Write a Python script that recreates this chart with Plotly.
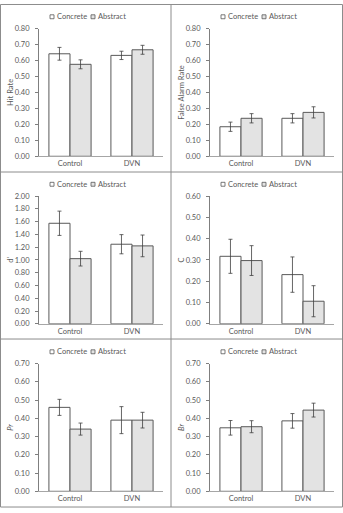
import plotly.graph_objects as go

W, H = 343, 513

groups = ["Control", "DVN"]
series = ["Concrete", "Abstract"]

hit_conc = [0.642, 0.632]
hit_conc_err = [0.040, 0.026]
hit_abs = [0.576, 0.667]
hit_abs_err = [0.028, 0.028]

fa_conc = [0.185, 0.238]
fa_conc_err = [0.029, 0.029]
fa_abs = [0.238, 0.275]
fa_abs_err = [0.029, 0.035]

dp_conc = [1.574, 1.246]
dp_conc_err = [0.19, 0.15]
dp_abs = [1.02, 1.22]
dp_abs_err = [0.115, 0.17]

c_conc = [0.317, 0.231]
c_conc_err = [0.080, 0.083]
c_abs = [0.297, 0.106]
c_abs_err = [0.070, 0.073]

pr_conc = [0.460, 0.390]
pr_conc_err = [0.044, 0.074]
pr_abs = [0.341, 0.390]
pr_abs_err = [0.033, 0.043]

br_conc = [0.348, 0.386]
br_conc_err = [0.040, 0.040]
br_abs = [0.354, 0.445]
br_abs_err = [0.033, 0.038]

panels = [
    ("Hit Rate", 0.80, 0.10, hit_conc, hit_conc_err, hit_abs, hit_abs_err),
    ("False Alarm Rate", 0.80, 0.10, fa_conc, fa_conc_err, fa_abs, fa_abs_err),
    ("d'", 2.00, 0.20, dp_conc, dp_conc_err, dp_abs, dp_abs_err),
    ("C", 0.60, 0.10, c_conc, c_conc_err, c_abs, c_abs_err),
    ("<i>Pr</i>", 0.70, 0.10, pr_conc, pr_conc_err, pr_abs, pr_abs_err),
    ("<i>Br</i>", 0.70, 0.10, br_conc, br_conc_err, br_abs, br_abs_err),
]

FONT = "Lato"
TXT = "#595959"
BAR_LINE = "#595959"
ABS_FILL = "#e3e3e3"
ERR = "#404040"
BORDER = "#8c8c8c"

def px_x(p):
    return p / W

def px_y(p):
    return 1 - p / H

PW, PH = 171, 170.5

fig = go.Figure()
layout = dict(
    width=W, height=H,
    margin=dict(l=0, r=0, t=0, b=0),
    paper_bgcolor="white", plot_bgcolor="white",
    showlegend=False,
    font=dict(family=FONT, size=7.5, color=TXT),
    bargap=0.32, bargroupgap=0, barmode="group",
)
shapes = []
annotations = []

for i, (title, ymax, dtick, conc, conc_err, ab, ab_err) in enumerate(panels):
    r, c = divmod(i, 2)
    ox, oy = c * PW, r * PH
    n = "" if i == 0 else str(i + 1)
    xa, ya = "x" + n, "y" + n
    fig.add_trace(go.Bar(
        x=groups, y=conc, name=series[0], xaxis=xa, yaxis=ya,
        marker=dict(color="white", line=dict(color=BAR_LINE, width=1)),
        error_y=dict(type="data", array=conc_err, color=ERR, thickness=0.8, width=2),
        offsetgroup="a",
    ))
    fig.add_trace(go.Bar(
        x=groups, y=ab, name=series[1], xaxis=xa, yaxis=ya,
        marker=dict(color=ABS_FILL, line=dict(color=BAR_LINE, width=1)),
        error_y=dict(type="data", array=ab_err, color=ERR, thickness=0.8, width=2),
        offsetgroup="b",
    ))
    x0, x1 = px_x(ox + 39), px_x(ox + 163)
    y0, y1 = px_y(oy + 155), px_y(oy + 25)
    layout["xaxis" + n] = dict(
        domain=[x0, x1], anchor=ya, showline=True, linecolor="#a6a6a6", linewidth=1,
        ticks="", showgrid=False, tickfont=dict(size=7.5, color=TXT),
        type="category", fixedrange=True,
    )
    layout["yaxis" + n] = dict(
        domain=[y0, y1], anchor=xa, range=[0, ymax], dtick=dtick, tick0=0,
        tickformat=".2f", showline=True, linecolor="#7f7f7f", linewidth=1,
        ticks="outside", ticklen=3, tickcolor="#7f7f7f", showgrid=False,
        zeroline=False, tickfont=dict(size=7.5, color=TXT), ticklabelstandoff=4,
        title=dict(text=title, font=dict(size=7.5, color=TXT), standoff=0),
        fixedrange=True,
    )
    # legend swatches and labels
    ly = oy + 13
    for sx, fill, label in [(ox + 50, "white", series[0]), (ox + 91, ABS_FILL, series[1])]:
        shapes.append(dict(
            type="rect", xref="paper", yref="paper",
            x0=px_x(sx), x1=px_x(sx + 4), y0=px_y(ly + 2), y1=px_y(ly - 2),
            fillcolor=fill, line=dict(color=BAR_LINE, width=0.8),
        ))
        annotations.append(dict(
            text=label, xref="paper", yref="paper", x=px_x(sx + 5), y=px_y(ly),
            xanchor="left", yanchor="middle", showarrow=False,
            font=dict(size=7.5, color=TXT, family=FONT),
        ))

# panel borders
shapes.append(dict(type="rect", xref="paper", yref="paper",
                   x0=px_x(0.5), x1=px_x(W - 0.5), y0=px_y(H - 1), y1=px_y(0.5),
                   line=dict(color=BORDER, width=1), fillcolor="rgba(0,0,0,0)"))
shapes.append(dict(type="line", xref="paper", yref="paper",
                   x0=px_x(171), x1=px_x(171), y0=px_y(H - 1), y1=px_y(0.5),
                   line=dict(color=BORDER, width=1)))
for yy in (171, 341):
    shapes.append(dict(type="line", xref="paper", yref="paper",
                       x0=px_x(0.5), x1=px_x(W - 0.5), y0=px_y(yy), y1=px_y(yy),
                       line=dict(color=BORDER, width=1)))

layout["shapes"] = shapes
layout["annotations"] = annotations
fig.update_layout(**layout)
fig.write_html("out.html", config={"displayModeBar": False})
